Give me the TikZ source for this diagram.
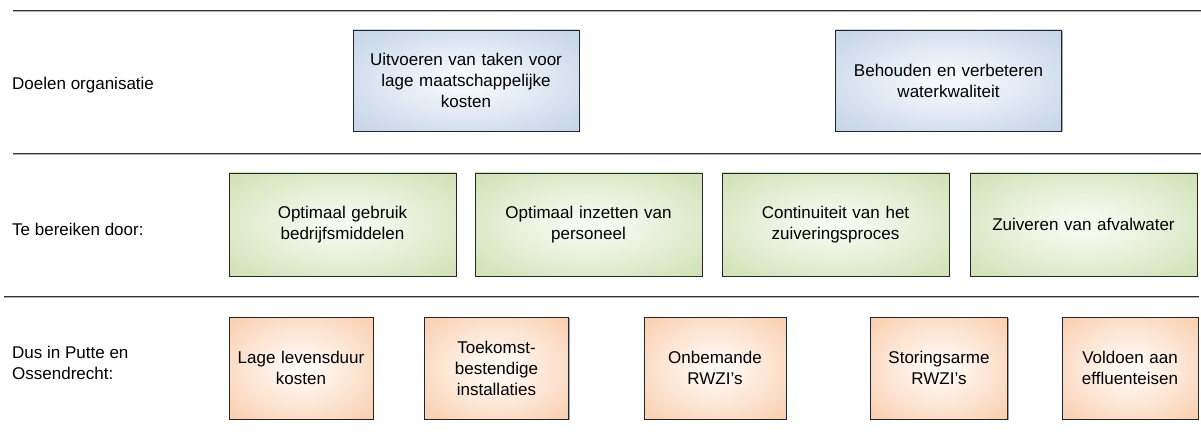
\documentclass[tikz,border=0pt]{standalone}
\usepackage{fontspec}
\setmainfont{Liberation Sans}
\definecolor{blueout}{HTML}{B6C9E2}
\definecolor{bluein}{HTML}{F4F7FB}
\definecolor{greenout}{HTML}{C6DAA4}
\definecolor{greenin}{HTML}{F6F9EF}
\definecolor{orangeout}{HTML}{F8C29A}
\definecolor{orangein}{HTML}{FFF8F2}
\pgfdeclareradialshading{blueglow}{\pgfpoint{0bp}{0bp}}{color(0bp)=(bluein); color(5bp)=(bluein); color(44bp)=(blueout); color(75bp)=(blueout)}
\pgfdeclareradialshading{greenglow}{\pgfpoint{0bp}{0bp}}{color(0bp)=(greenin); color(5bp)=(greenin); color(44bp)=(greenout); color(75bp)=(greenout)}
\pgfdeclareradialshading{orangeglow}{\pgfpoint{0bp}{0bp}}{color(0bp)=(orangein); color(5bp)=(orangein); color(44bp)=(orangeout); color(75bp)=(orangeout)}
\tikzset{
  txt/.style={font=\fontsize{17}{21}\selectfont, text=black},
  box/.style={txt, draw=black!85, line width=0.8pt, rectangle, align=center, inner sep=2pt,
    preaction={fill=black!35, transform canvas={xshift=1.2pt, yshift=-1.2pt}}},
  bluebox/.style={box, shading=blueglow, minimum width=226pt, minimum height=101pt, text width=210pt},
  greenbox/.style={box, shading=greenglow, minimum width=227pt, minimum height=103pt, text width=210pt},
  orangebox/.style={box, shading=orangeglow, minimum width=140pt, minimum height=102pt, text width=128pt},
  rowlabel/.style={txt, anchor=west, align=left, inner sep=0pt},
  sepline/.style={draw=black!80, line width=0.9pt},
  sepshadow/.style={draw=black!30, line width=0.9pt}
}
\begin{document}
\begin{tikzpicture}[x=1pt,y=1pt]
\useasboundingbox (0,0) rectangle (1201,434);
% separator lines
\coordinate (l1a) at (13,424); \coordinate (l1b) at (1201,424);
\coordinate (l2a) at (13,281); \coordinate (l2b) at (1201,281);
\coordinate (l3a) at (4,138);  \coordinate (l3b) at (1199,138);
\draw[sepshadow] ([yshift=-1.1pt]l1a) -- ([yshift=-1.1pt]l1b);
\draw[sepshadow] ([yshift=-1.1pt]l2a) -- ([yshift=-1.1pt]l2b);
\draw[sepshadow] ([yshift=-1.1pt]l3a) -- ([yshift=-1.1pt]l3b);
\draw[sepline] (l1a) -- (l1b);
\draw[sepline] (l2a) -- (l2b);
\draw[sepline] (l3a) -- (l3b);
% row labels
\node[rowlabel] (lab1) at (12,349) {Doelen organisatie};
\node[rowlabel] (lab2) at (12,205) {Te bereiken door:};
\node[rowlabel] (lab3) at (12,71) {Dus in Putte en\\Ossendrecht:};
% row 1
\node[bluebox] (b1) at (466,353.5) {Uitvoeren van taken voor\\lage maatschappelijke\\kosten};
\node[bluebox] (b2) at (948.5,353.5) {Behouden en verbeteren\\waterkwaliteit};
% row 2
\node[greenbox] (g1) at (342.5,209.5) {Optimaal gebruik\\bedrijfsmiddelen};
\node[greenbox] (g2) at (588.5,209.5) {Optimaal inzetten van\\personeel};
\node[greenbox] (g3) at (835.5,209.5) {Continuiteit van het\\zuiveringsproces};
\node[greenbox] (g4) at (1083.5,209.5) {Zuiveren van afvalwater};
% row 3
\node[orangebox, minimum width=144pt] (o1) at (301,66) {Lage levensduur\\kosten};
\node[orangebox, minimum width=144pt] (o2) at (496.5,66) {Toekomst-\\bestendige\\installaties};
\node[orangebox, minimum width=142pt] (o3) at (715,66) {Onbemande\\RWZI’s};
\node[orangebox, minimum width=137pt] (o4) at (939,66) {Storingsarme\\RWZI’s};
\node[orangebox, minimum width=136pt] (o5) at (1130,66) {Voldoen aan\\effluenteisen};
\end{tikzpicture}
\end{document}
